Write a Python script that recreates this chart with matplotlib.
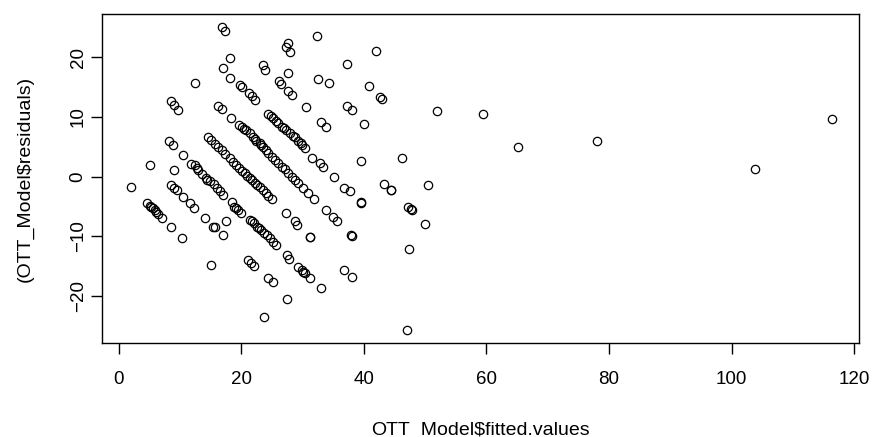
import numpy as np
import matplotlib.pyplot as plt

plt.rcParams['font.family'] = ['Liberation Sans', 'DejaVu Sans']

# fitted values and residuals, grouped roughly by diagonal band
fitted_band0 = [2.0, 4.7, 5.1, 5.3, 5.6, 5.9, 6.15, 6.5, 7.1, 8.6, 10.4, 15.0, 23.7]
resid_band0 = [-1.8, -4.45, -4.9, -5.0, -5.3, -5.6, -5.9, -6.3, -6.9, -8.4, -10.2, -14.8, -23.5]

fitted_band7 = [5.1, 8.5, 9.0, 9.6, 10.5, 11.6, 12.3, 14.1, 15.4, 15.8, 17.0,
                21.1, 21.6, 22.1, 24.4, 25.2, 27.4]
resid_band7 = [1.95, -1.4, -1.95, -2.2, -3.35, -4.45, -5.3, -6.9, -8.4, -8.4, -9.8,
               -14.0, -14.5, -15.0, -17.0, -17.7, -20.4]

fitted_band14 = [8.3, 8.9, 10.5, 11.9, 12.4, 12.8, 13.0, 13.6, 14.2, 14.5, 14.9, 15.5,
                 16.1, 16.6, 17.1, 18.5, 18.9, 19.2, 19.5, 20.0, 21.5, 21.8, 22.1,
                 22.6, 22.9, 23.2, 23.7, 24.2, 24.7, 25.2, 25.6, 27.4, 27.8, 29.3,
                 29.9, 30.1, 30.4, 31.2, 33.0]
resid_band14 = [5.9, 5.3, 3.6, 2.2, 1.9, 1.4, 1.2, 0.5, -0.2, -0.5, -0.8, -1.3,
                -1.9, -2.4, -3.0, -4.2, -5.0, -5.3, -5.6, -6.0, -7.25, -7.5, -7.8,
                -8.4, -8.6, -8.9, -9.5, -9.8, -10.3, -10.9, -11.4, -13.1, -13.7, -15.1,
                -15.6, -15.9, -16.2, -16.9, -18.7]

fitted_band21 = [8.6, 9.0, 9.7, 14.6, 15.1, 15.7, 16.2, 16.8, 17.4, 18.1, 18.7, 19.2,
                 19.7, 20.2, 20.6, 21.0, 21.4, 21.8, 22.2, 22.6, 23.0, 23.5, 24.0,
                 24.4, 25.0, 27.3, 28.7, 29.1, 31.2, 31.3, 36.8, 38.1, 47.0]
resid_band21 = [12.6, 12.0, 11.2, 6.6, 6.1, 5.5, 5.0, 4.4, 3.8, 3.1, 2.5, 2.0,
                1.5, 1.0, 0.6, 0.2, -0.2, -0.6, -1.0, -1.4, -1.8, -2.3, -2.8,
                -3.2, -3.8, -6.0, -7.5, -8.1, -10.05, -10.15, -15.6, -16.75, -25.7]

fitted_band28 = [12.5, 16.3, 16.8, 18.3, 19.6, 20.1, 20.5, 20.8, 21.4, 21.9, 22.2,
                 22.5, 23.0, 23.3, 23.6, 24.0, 24.4, 25.0, 25.5, 26.05, 26.6, 27.1,
                 27.7, 28.3, 28.8, 29.3, 30.1, 30.9, 31.8, 33.8, 35.0, 35.6, 37.9, 38.0]
resid_band28 = [15.7, 11.8, 11.3, 9.8, 8.7, 8.4, 8.0, 7.8, 7.3, 6.7, 6.3,
                6.0, 5.6, 5.3, 5.0, 4.5, 3.9, 3.35, 2.8, 2.25, 1.7, 1.25,
                0.7, -0.1, -0.6, -1.1, -1.95, -2.8, -3.7, -5.6, -6.7, -7.4, -9.8, -9.9]

fitted_band35 = [17.0, 18.2, 19.8, 20.2, 21.2, 21.8, 22.2, 24.4, 24.8, 25.2, 25.6,
                 26.0, 26.6, 27.0, 27.3, 28.0, 28.4, 28.7, 29.3, 29.7, 30.0, 30.4,
                 31.5, 32.9, 33.4, 35.2, 36.8, 37.75, 39.5, 39.6, 47.3]
resid_band35 = [18.2, 16.6, 15.4, 15.1, 14.1, 13.5, 12.8, 10.5, 10.1, 9.8, 9.4,
                9.0, 8.4, 8.1, 7.8, 7.3, 6.9, 6.6, 6.0, 5.6, 5.3, 4.8,
                3.1, 2.25, 1.7, -0.1, -1.85, -2.4, -4.3, -4.4, -12.1]

fitted_band42 = [16.9, 17.3, 23.6, 23.9, 26.1, 26.5, 27.7, 28.3, 30.5, 33.0, 33.8,
                 39.5, 43.3, 44.4, 44.5, 47.2, 47.7, 47.9, 50.0]
resid_band42 = [25.0, 24.4, 18.7, 17.9, 16.1, 15.6, 14.4, 13.7, 11.6, 9.2, 8.3,
                2.6, -1.3, -2.2, -2.3, -5.0, -5.4, -5.6, -8.0]

fitted_high = [18.1, 27.3, 27.6, 28.0, 27.6, 32.6, 34.4, 37.2, 38.1, 40.1, 46.3, 50.5,
               32.3, 37.2, 40.9, 42.7, 42.9, 42.0, 52.0]
resid_high = [19.8, 21.8, 22.4, 20.9, 17.4, 16.3, 15.7, 11.9, 11.1, 8.9, 3.1, -1.4,
              23.6, 18.9, 15.2, 13.4, 13.0, 21.1, 11.05]

fitted_other = [9.0, 17.6, 59.4, 65.1, 78.0, 103.8, 116.3]
resid_other = [1.1, -7.5, 10.55, 4.9, 6.0, 1.3, 9.7]

fitted = np.concatenate([fitted_band0, fitted_band7, fitted_band14, fitted_band21,
                         fitted_band28, fitted_band35, fitted_band42, fitted_high, fitted_other])
resid = np.concatenate([resid_band0, resid_band7, resid_band14, resid_band21,
                        resid_band28, resid_band35, resid_band42, resid_high, resid_other])

x_ticks = [0, 20, 40, 60, 80, 100, 120]
y_ticks = [-20, -10, 0, 10, 20]

fig = plt.figure(figsize=(8.73, 4.37), dpi=100)
ax = fig.add_axes([0.1168, 0.2144, 0.8668, 0.7529])

ax.plot(fitted, resid, 'o', markersize=6, markerfacecolor='none',
        markeredgecolor='black', markeredgewidth=0.9)

ax.set_xlim(-2.7, 120.7)
ax.set_ylim(-27.9, 27.2)
ax.set_xticks(x_ticks)
ax.set_yticks(y_ticks)
ax.tick_params(length=8, width=1, labelsize=13.5, colors='black')
ax.tick_params(axis='x', pad=12)
ax.tick_params(axis='y', pad=3)
for lab in ax.get_yticklabels():
    lab.set_rotation(90)
    lab.set_va('center')

for s in ax.spines.values():
    s.set_linewidth(1.0)

ax.set_xlabel("OTT_Model$fitted.values", fontsize=14, labelpad=24)
ax.set_ylabel("(OTT_Model$residuals)", fontsize=14, labelpad=26)

fig.savefig("out.png", dpi=100)
